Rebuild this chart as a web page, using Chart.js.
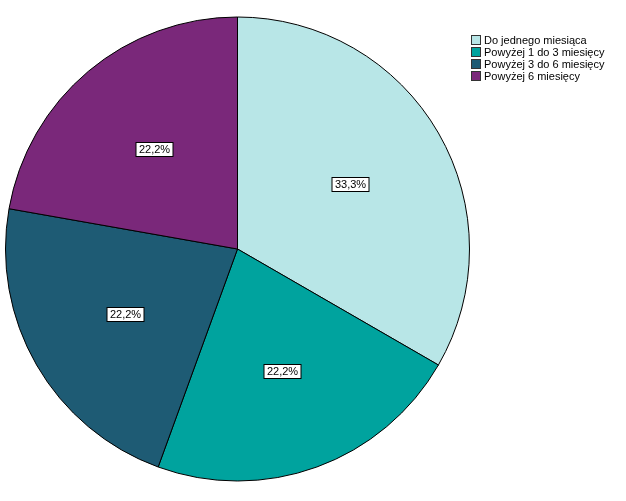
<!DOCTYPE html>
<html>
<head>
<meta charset="utf-8">
<script src="https://cdn.jsdelivr.net/npm/chart.js@4/dist/chart.umd.min.js"></script>
<style>
  html, body { margin: 0; padding: 0; background: #fff; }
  #wrap { width: 626px; height: 501px; position: relative; }
</style>
</head>
<body>
<div id="wrap"><canvas id="c" width="626" height="501"></canvas></div>
<script>
const categories = ["Do jednego miesiąca", "Powyżej 1 do 3 miesięcy", "Powyżej 3 do 6 miesięcy", "Powyżej 6 miesięcy"];
const percents = [33.3, 22.2, 22.2, 22.2];
const sliceColors = ["#b8e6e7", "#00a39e", "#1e5b74", "#7a287a"];

// boxed percentage labels inside each slice
const sliceLabels = {
    id: "sliceLabels",
    afterDatasetsDraw(chart) {
        const ctx = chart.ctx;
        const meta = chart.getDatasetMeta(0);
        ctx.save();
        ctx.font = "11px 'Liberation Sans', Arial, sans-serif";
        ctx.textAlign = "center";
        ctx.textBaseline = "middle";
        meta.data.forEach(function (arc, i) {
            const mid = (arc.startAngle + arc.endAngle) / 2;
            const r = arc.outerRadius * 0.56;
            const x = Math.round(arc.x + Math.cos(mid) * r);
            const y = Math.round(arc.y + Math.sin(mid) * r);
            const txt = percents[i].toFixed(1).replace(".", ",") + "%";
            const w = Math.ceil(ctx.measureText(txt).width) + 5;
            const h = 14;
            ctx.fillStyle = "#fff";
            ctx.fillRect(x - w / 2 + 0.5, y - h / 2 + 0.5, w, h);
            ctx.strokeStyle = "#000";
            ctx.lineWidth = 1;
            ctx.strokeRect(x - w / 2 + 0.5, y - h / 2 + 0.5, w, h);
            ctx.fillStyle = "#000";
            ctx.fillText(txt, x + 0.5, y + 1);
        });
        ctx.restore();
    }
};

// legend box in the top-right corner
const cornerLegend = {
    id: "cornerLegend",
    afterDraw(chart) {
        const ctx = chart.ctx;
        ctx.save();
        ctx.font = "11px 'Liberation Sans', Arial, sans-serif";
        ctx.textAlign = "left";
        ctx.textBaseline = "middle";
        categories.forEach(function (name, i) {
            const y = 40 + i * 12;
            ctx.fillStyle = sliceColors[i];
            ctx.fillRect(471.5, y - 4.5, 9, 9);
            ctx.strokeStyle = "#333";
            ctx.lineWidth = 1;
            ctx.strokeRect(471.5, y - 4.5, 9, 9);
            ctx.fillStyle = "#000";
            ctx.fillText(name, 484, y + 0.5);
        });
        ctx.restore();
    }
};

new Chart(document.getElementById("c"), {
    type: "pie",
    data: {
        labels: categories,
        datasets: [{
            data: percents,
            backgroundColor: sliceColors,
            borderColor: "#000",
            borderWidth: 1,
            borderAlign: "center"
        }]
    },
    options: {
        responsive: false,
        animation: false,
        layout: { padding: { left: 5, right: 156, top: 16, bottom: 19 } },
        plugins: {
            legend: { display: false },
            tooltip: { enabled: false }
        }
    },
    plugins: [sliceLabels, cornerLegend]
});
</script>
</body>
</html>
